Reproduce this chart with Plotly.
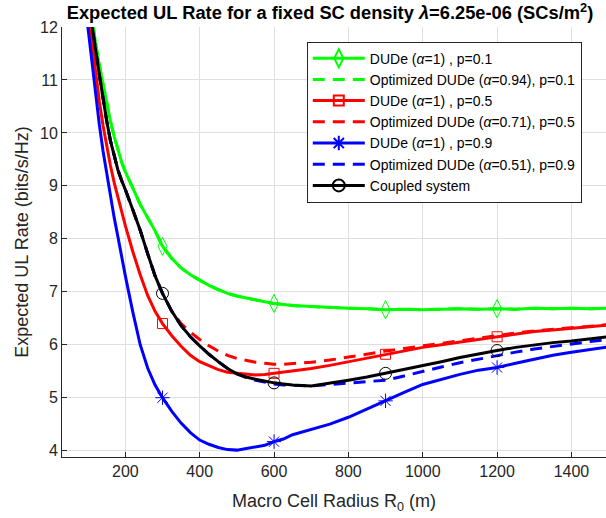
import plotly.graph_objects as go

# Macro cell radius R0 (m)
R0 = [90, 100, 110, 120, 130, 140, 150, 160, 170, 180, 190, 200,
      220, 240, 260, 280,
      300, 325, 350, 375, 400, 425, 450, 475, 500, 525, 550, 575, 600,
      625, 650,
      700, 750, 800, 850, 900, 950, 1000, 1050, 1100, 1150, 1200,
      1250, 1300, 1350, 1400, 1450, 1500]

# expected UL rate (bits/s/Hz)
dude_p01 = [13.2, 12.68, 12.18, 11.7, 11.28, 10.92, 10.56, 10.22, 9.93, 9.67, 9.45, 9.27,
            8.95, 8.65, 8.4, 8.15,
            7.86, 7.63, 7.45, 7.32, 7.22, 7.12, 7.04, 6.97, 6.92, 6.88, 6.84, 6.81, 6.78,
            6.76, 6.74,
            6.72, 6.7, 6.69, 6.68, 6.66, 6.67, 6.66, 6.67, 6.68, 6.67, 6.68,
            6.67, 6.69, 6.68, 6.69, 6.68, 6.69]
opt_p01 = [13.2, 12.68, 12.18, 11.7, 11.28, 10.92, 10.56, 10.22, 9.93, 9.67, 9.45, 9.27,
           8.95, 8.65, 8.4, 8.15,
           7.86, 7.63, 7.45, 7.32, 7.22, 7.12, 7.04, 6.97, 6.92, 6.88, 6.84, 6.81, 6.78,
           6.76, 6.74,
           6.72, 6.7, 6.69, 6.68, 6.66, 6.67, 6.66, 6.67, 6.68, 6.67, 6.68,
           6.67, 6.69, 6.68, 6.69, 6.68, 6.69]
dude_p05 = [12.85, 12.28, 11.7, 11.1, 10.6, 10.14, 9.72, 9.38, 9.06, 8.78, 8.5, 8.25,
            7.76, 7.32, 6.93, 6.63,
            6.4, 6.17, 5.97, 5.8, 5.68, 5.6, 5.53, 5.48, 5.46, 5.44, 5.43, 5.44, 5.46,
            5.48, 5.5,
            5.55, 5.61, 5.68, 5.75, 5.82, 5.89, 5.95, 6.0, 6.05, 6.09, 6.15,
            6.2, 6.25, 6.28, 6.31, 6.34, 6.37]
opt_p05 = [13.0, 12.55, 12.05, 11.57, 11.1, 10.65, 10.22, 9.85, 9.55, 9.3, 9.1, 8.93,
           8.55, 8.16, 7.72, 7.3,
           6.97, 6.63, 6.4, 6.24, 6.1, 5.98, 5.88, 5.8, 5.74, 5.7, 5.67, 5.65, 5.63,
           5.63, 5.64,
           5.67, 5.71, 5.77, 5.82, 5.88, 5.93, 5.98, 6.03, 6.08, 6.13, 6.18,
           6.22, 6.26, 6.29, 6.31, 6.34, 6.38]
dude_p09 = [12.55, 11.94, 11.3, 10.72, 10.16, 9.66, 9.22, 8.8, 8.4, 8.04, 7.66, 7.3,
            6.62, 6.0, 5.56, 5.24,
            5.0, 4.74, 4.52, 4.34, 4.2, 4.12, 4.06, 4.02, 4.01, 4.04, 4.06, 4.1, 4.17,
            4.22, 4.3,
            4.4, 4.5, 4.63, 4.79, 4.94, 5.1, 5.25, 5.35, 5.44, 5.52, 5.57,
            5.65, 5.73, 5.8, 5.86, 5.91, 5.96]
opt_p09 = [13.0, 12.55, 12.05, 11.57, 11.1, 10.65, 10.22, 9.85, 9.55, 9.3, 9.1, 8.93,
           8.55, 8.16, 7.72, 7.3,
           6.97, 6.63, 6.36, 6.15, 5.98, 5.82, 5.68, 5.55, 5.45, 5.38, 5.33, 5.29, 5.26,
           5.24, 5.23,
           5.22, 5.25, 5.28, 5.3, 5.33, 5.41, 5.5, 5.58, 5.66, 5.73, 5.8,
           5.86, 5.92, 5.97, 6.01, 6.06, 6.1]
coupled = [13.0, 12.55, 12.05, 11.57, 11.1, 10.65, 10.22, 9.85, 9.55, 9.3, 9.1, 8.93,
           8.55, 8.16, 7.72, 7.3,
           6.97, 6.63, 6.36, 6.15, 5.98, 5.82, 5.68, 5.55, 5.45, 5.39, 5.35, 5.31, 5.28,
           5.26, 5.24,
           5.22, 5.27, 5.33, 5.39, 5.46, 5.53, 5.6, 5.68, 5.76, 5.83, 5.89,
           5.95, 6.0, 6.04, 6.07, 6.11, 6.15]

MARKER_R0 = [300, 600, 900, 1200]

FONT = "Liberation Sans, Arial, sans-serif"
DASH = "12px,8px"

# name, values, colour, dashed?, marker symbol, marker size
series = [
    ("DUDe (<i>α</i>=1) , p=0.1", dude_p01, "#00ff00", False, "diamond-tall-open", 13),
    ("Optimized DUDe (<i>α</i>=0.94), p=0.1", opt_p01, "#00ff00", True, None, 0),
    ("DUDe (<i>α</i>=1) , p=0.5", dude_p05, "#ff0000", False, "square-open", 10),
    ("Optimized DUDe (<i>α</i>=0.71), p=0.5", opt_p05, "#ff0000", True, None, 0),
    ("DUDe (<i>α</i>=1) , p=0.9", dude_p09, "#0000ff", False, "asterisk-open", 12),
    ("Optimized DUDe (<i>α</i>=0.51), p=0.9", opt_p09, "#0000ff", True, None, 0),
    ("Coupled system", coupled, "#000000", False, "circle-open", 12),
]


def at_markers(ys):
    return [ys[R0.index(r)] for r in MARKER_R0]


fig = go.Figure()

for name, ys, color, dashed, symbol, msize in series:
    line = dict(color=color, width=3, dash=DASH if dashed else "solid")
    fig.add_trace(go.Scatter(x=R0, y=ys, mode="lines", line=line,
                             showlegend=False, hoverinfo="skip"))
    if symbol:
        fig.add_trace(go.Scatter(
            x=MARKER_R0, y=at_markers(ys), mode="markers", showlegend=False,
            marker=dict(symbol=symbol, size=msize, color=color,
                        line=dict(color=color, width=1)),
        ))
        # legend entry: line with marker
        fig.add_trace(go.Scatter(
            x=[None], y=[None], mode="lines+markers", name=name, line=line,
            marker=dict(symbol=symbol, size=msize, color=color,
                        line=dict(color=color, width=2)),
        ))
    else:
        fig.add_trace(go.Scatter(x=[None], y=[None], mode="lines", name=name, line=line))

axis_common = dict(
    showgrid=True, gridcolor="#dfdfdf", gridwidth=1,
    showline=True, linecolor="#262626", linewidth=1,
    ticks="inside", ticklen=5, tickcolor="#262626",
    tickfont=dict(family=FONT, size=16, color="#262626"),
    zeroline=False, mirror=False, automargin=False,
)

fig.update_layout(
    width=606, height=518,
    paper_bgcolor="white", plot_bgcolor="white",
    margin=dict(l=62, r=0, t=27, b=61),
    font=dict(family=FONT, color="#262626"),
    title=dict(
        text="<b>Expected UL Rate for a fixed SC density <i>λ</i>=6.25e-06 (SCs/m<sup>2</sup>)</b>",
        font=dict(family=FONT, size=18.3, color="#000000"),
        x=330 / 606, xref="container", xanchor="center",
        y=1 - 13 / 518, yref="container", yanchor="middle",
    ),
    xaxis=dict(axis_common, range=[29.6, 1493], tickvals=[200, 400, 600, 800, 1000, 1200, 1400],
               title=dict(text="Macro Cell Radius R<sub>0</sub> (m)", standoff=15,
                          font=dict(family=FONT, size=18, color="#262626"))),
    yaxis=dict(axis_common, range=[3.88, 12], tickvals=[4, 5, 6, 7, 8, 9, 10, 11, 12],
               title=dict(text="Expected UL Rate (bits/s/Hz)", standoff=6,
                          font=dict(family=FONT, size=18, color="#262626"))),
    legend=dict(
        x=0.45, y=0.966, xanchor="left", yanchor="top",
        bgcolor="white", bordercolor="#262626", borderwidth=1,
        font=dict(family=FONT, size=14, color="#000000"),
        itemwidth=52, tracegroupgap=0,
    ),
)

fig.write_html("out.html", config={"displayModeBar": False},
               post_script="document.body.style.margin='0px';")
